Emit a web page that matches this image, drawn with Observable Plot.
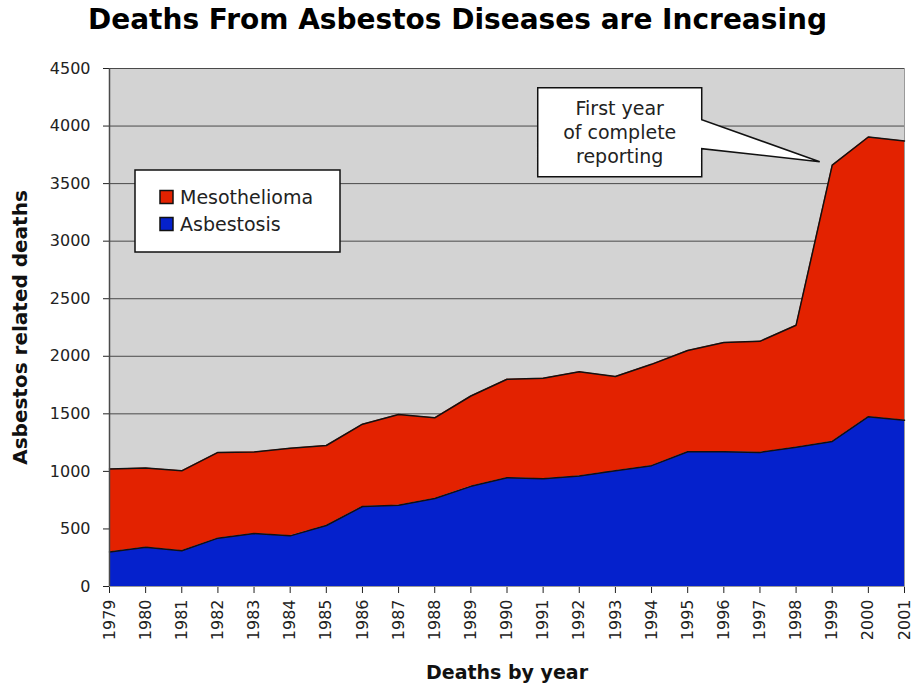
<!DOCTYPE html>
<html>
<head>
<meta charset="utf-8">
<script src="https://cdn.jsdelivr.net/npm/d3@7"></script>
<script src="https://cdn.jsdelivr.net/npm/@observablehq/plot@0.6"></script>
<style>
  html, body { margin: 0; padding: 0; background: #fff; }
  #title { height: 40px; line-height: 40px; text-align: center; font-family: "DejaVu Sans", Verdana, sans-serif; font-weight: bold; font-size: 28px; color: #000; }
  #chart svg { display: block; }
</style>
</head>
<body>
<div id="title">Deaths From Asbestos Diseases are Increasing</div>
<div id="chart"></div>
<script>
const years = [1979, 1980, 1981, 1982, 1983, 1984, 1985, 1986, 1987, 1988, 1989, 1990,
               1991, 1992, 1993, 1994, 1995, 1996, 1997, 1998, 1999, 2000, 2001];
const asbestosis = [300, 340, 310, 420, 460, 440, 530, 695, 705, 765, 870, 945,
                    935, 960, 1005, 1050, 1170, 1170, 1165, 1210, 1260, 1475, 1445];
const mesothelioma = [720, 690, 695, 745, 708, 760, 695, 715, 790, 700, 785, 855,
                      875, 905, 820, 880, 880, 950, 965, 1060, 2400, 2430, 2425];
const causes = ["Mesothelioma", "Asbestosis"];
const causeColors = ["#e32200", "#0521cc"];
const stackOrder = ["Asbestosis", "Mesothelioma"];
const yTicks = [0, 500, 1000, 1500, 2000, 2500, 3000, 3500, 4000, 4500];
const calloutLines = ["First year", "of complete", "reporting"];
const calloutYear = 1999;

const data = years.flatMap((year, i) => [
  {year, cause: "Asbestosis", deaths: asbestosis[i]},
  {year, cause: "Mesothelioma", deaths: mesothelioma[i]}
]);

const FONT = "DejaVu Sans, Verdana, sans-serif";

function pickScales(args) {
  for (const a of args) if (a && typeof a.x === "function" && typeof a.y === "function") return a;
  return null;
}
function pickDims(args) {
  for (const a of args) if (a && typeof a.marginLeft === "number" && typeof a.width === "number") return a;
  return null;
}

function legendMark(...args) {
  const dims = pickDims(args);
  const g = d3.create("svg:g");
  const left = dims.marginLeft + 26, top = dims.marginTop + 102;
  g.append("rect").attr("x", left).attr("y", top).attr("width", 205).attr("height", 82)
    .attr("fill", "#fff").attr("stroke", "#111").attr("stroke-width", 1.5);
  causes.forEach((c, i) => {
    const cy = top + 27 + i * 27;
    g.append("rect").attr("x", left + 25).attr("y", cy - 6.5).attr("width", 13).attr("height", 13)
      .attr("fill", causeColors[i]).attr("stroke", "#111").attr("stroke-width", 1.5);
    g.append("text").attr("x", left + 45).attr("y", cy).attr("dy", "0.35em")
      .attr("text-anchor", "start")
      .attr("font-family", FONT).attr("font-size", 19).attr("fill", "#222").text(c);
  });
  return g.node();
}

function calloutMark(...args) {
  const s = pickScales(args);
  const i = years.indexOf(calloutYear);
  const tx = s.x(calloutYear) - 12;
  const ty = s.y(asbestosis[i] + mesothelioma[i]) - 3;
  const L = tx - 282, R = tx - 118, T = ty - 74, B = ty + 15;
  const g = d3.create("svg:g");
  const path = [[L, T], [R, T], [R, ty - 42], [tx, ty], [R, ty - 13], [R, B], [L, B]];
  g.append("path").attr("d", "M" + path.map(p => p.join(",")).join("L") + "Z")
    .attr("fill", "#fff").attr("stroke", "#111").attr("stroke-width", 1.5).attr("stroke-linejoin", "miter");
  calloutLines.forEach((t, k) => {
    g.append("text").attr("x", (L + R) / 2).attr("y", T + 21 + k * 24).attr("dy", "0.35em")
      .attr("text-anchor", "middle").attr("font-family", FONT).attr("font-size", 19).attr("fill", "#222").text(t);
  });
  return g.node();
}

const chart = Plot.plot({
  width: 915,
  height: 650,
  marginTop: 28,
  marginBottom: 104,
  marginLeft: 109,
  marginRight: 11,
  style: {fontFamily: FONT, fontSize: "16px", color: "#222", background: "#fff", overflow: "visible"},
  x: {domain: [1979, 2001], ticks: years, tickFormat: d => String(d), tickRotate: -90, tickSize: 7, tickPadding: 6, label: null},
  y: {domain: [0, 4500], ticks: yTicks, tickFormat: d => String(d), tickSize: 6, tickPadding: 13, label: null, line: true},
  color: {domain: causes, range: causeColors},
  marks: [
    Plot.frame({fill: "#d3d3d3", stroke: "#9a9a9a"}),
    Plot.ruleY(yTicks.slice(1), {stroke: "#4a4a4a", strokeWidth: 1}),
    Plot.areaY(data, {x: "year", y: "deaths", fill: "cause", order: stackOrder}),
    Plot.lineY(data, Plot.stackY2({x: "year", y: "deaths", z: "cause", order: stackOrder, stroke: "#111", strokeWidth: 1.5})),
    Plot.ruleX([1979], {stroke: "#4a4a4a", strokeWidth: 1.5}),
    legendMark,
    calloutMark,
    Plot.text(["Asbestos related deaths"], {frameAnchor: "left", textAnchor: "middle", dx: -89, rotate: -90, fontWeight: "bold", fontSize: 20, fill: "#111"}),
    Plot.text(["Deaths by year"], {frameAnchor: "bottom", dy: 92, fontWeight: "bold", fontSize: 19, fill: "#111"})
  ]
});
document.getElementById("chart").appendChild(chart);
</script>
</body>
</html>
